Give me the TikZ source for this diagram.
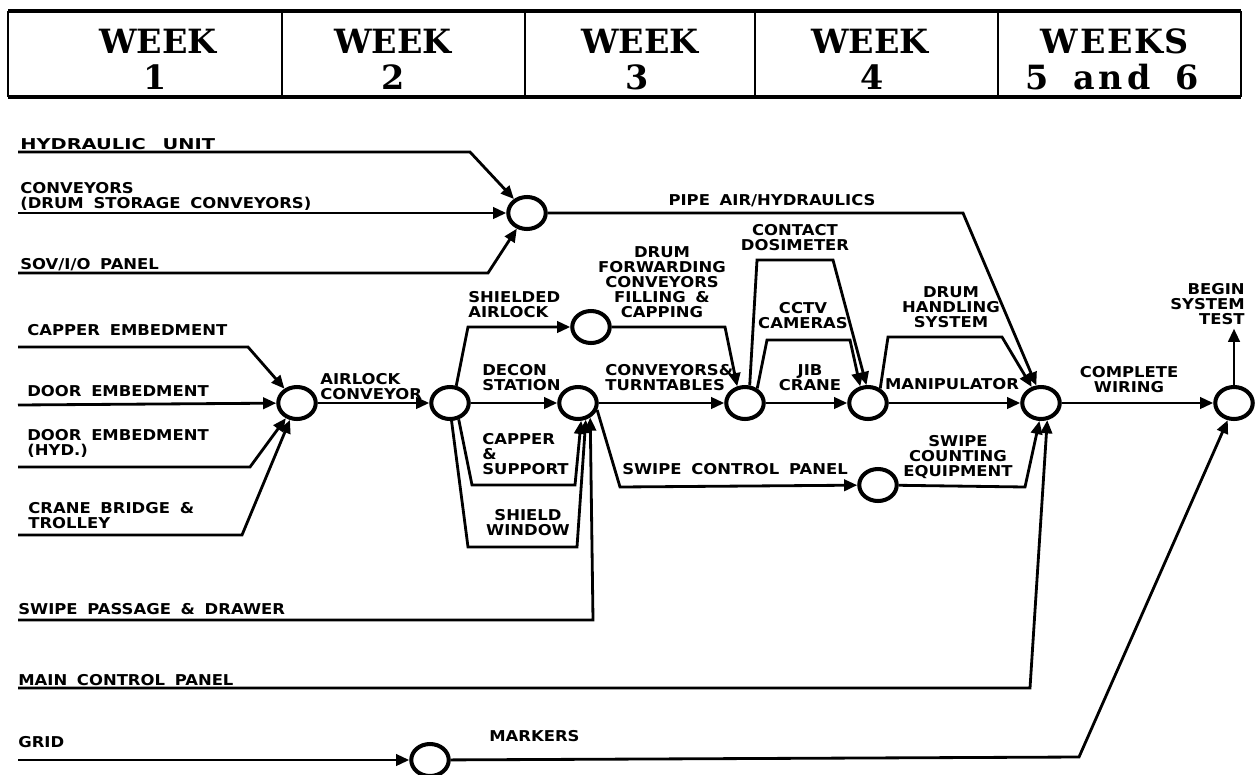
\documentclass[tikz,border=0pt]{standalone}
\usepackage{fontspec}
\usetikzlibrary{arrows.meta,shapes.geometric}
\newfontfamily\lab{DejaVu Sans}[FakeStretch=1.1,WordSpace=1.7]
\newfontfamily\labw{DejaVu Sans}[FakeStretch=1.3,WordSpace=2.5]
\newfontfamily\hdr{DejaVu Serif}
\begin{document}
\begin{tikzpicture}[x=0.02cm,y=-0.02cm,
  arr/.style={line width=1.6pt,-{Triangle[length=7.5pt,width=6.5pt]}},
  ev/.style={draw,ellipse,line width=2.3pt,minimum width=0.75cm,minimum height=0.64cm,inner sep=0pt},
  lbl/.style={font=\lab\bfseries\fontsize{8.5}{8.6}\selectfont,inner sep=0pt},
  lblw/.style={font=\labw\bfseries\fontsize{8.5}{8.6}\selectfont,inner sep=0pt},
  hd/.style={font=\hdr\bfseries\fontsize{19}{20}\selectfont,inner sep=0pt}]
\useasboundingbox (0,0) rectangle (1257,774);
% header
\draw[line width=1.8pt] (8,11) -- (1241,11);
\draw[line width=1.8pt] (8,97) -- (1241,97);
\foreach \x in {8,282,525,755,998,1241} \draw[line width=1pt] (\x,11) -- (\x,97);
\node[hd] (h1a) at (158,41) {WEEK};
\node[hd] (h1b) at (155,77) {1};
\node[hd] (h2a) at (393,41) {WEEK};
\node[hd] (h2b) at (393,77) {2};
\node[hd] (h3a) at (640,41) {WEEK};
\node[hd] (h3b) at (637,77) {3};
\node[hd] (h4a) at (870,41) {WEEK};
\node[hd] (h4b) at (872,77) {4};
\node[hd] (h5a) at (1115,41) {W\hspace{0.05em}E\hspace{0.05em}E\hspace{0.05em}K\hspace{0.05em}S};
\node[hd] (h5b) at (1112,77) {5\hspace{0.75em}a\hspace{0.12em}n\hspace{0.12em}d\hspace{0.75em}6};
% events
\node[ev] (A) at (527,213) {};
\node[ev] (B) at (297,403) {};
\node[ev] (C) at (450,403) {};
\node[ev] (D) at (591,327) {};
\node[ev] (E) at (578,403) {};
\node[ev] (F) at (745,403) {};
\node[ev] (G) at (868,403) {};
\node[ev] (H) at (1041,403) {};
\node[ev] (I) at (878,485) {};
\node[ev] (J) at (1234,403) {};
\node[ev] (K) at (430,760) {};
% free ends
\coordinate (hydS) at (18,152);
\coordinate (convS) at (18,213);
\coordinate (sovS) at (18,273);
\coordinate (capS) at (18,347);
\coordinate (doorS) at (18,405);
\coordinate (dhydS) at (18,467);
\coordinate (craneS) at (18,535);
\coordinate (swpS) at (18,620);
\coordinate (mainS) at (18,688);
\coordinate (gridS) at (18,760);
% labels
\node[lblw,anchor=west] (lhyd) at (20,144) {HYDRAULIC UNIT};
\node[lbl,anchor=west,align=left] (lconv) at (20,196) {CONVEYORS\\(DRUM STORAGE CONVEYORS)};
\node[lbl,anchor=west] (lsov) at (20,265) {SOV/I/O PANEL};
\node[lbl,anchor=west] (lcap) at (27,330) {CAPPER EMBEDMENT};
\node[lbl,anchor=west] (ldoor) at (27,391) {DOOR EMBEDMENT};
\node[lbl,anchor=west,align=left] (ldhyd) at (27,443) {DOOR EMBEDMENT\\(HYD.)};
\node[lbl,anchor=west,align=left] (lcrane) at (28,516) {CRANE BRIDGE \&\\TROLLEY};
\node[lbl,anchor=west] (lswp) at (18,609) {SWIPE PASSAGE \& DRAWER};
\node[lbl,anchor=west] (lmain) at (18,680) {MAIN CONTROL PANEL};
\node[lbl,anchor=west] (lgrid) at (18,742) {GRID};
\node[lbl,anchor=west] (lmark) at (489,736) {MARKERS};
\node[lbl] (lpipe) at (772,201) {PIPE AIR/HYDRAULICS};
\node[lbl,align=center] (ldrum) at (662,282) {DRUM\\FORWARDING\\CONVEYORS\\FILLING \&\\CAPPING};
\node[lbl,align=center] (lcont) at (795,238) {CONTACT\\DOSIMETER};
\node[lbl,anchor=west,align=left] (lshl) at (468,305) {SHIELDED\\AIRLOCK};
\node[lbl,anchor=west,align=left] (ldec) at (482,378) {DECON\\STATION};
\node[lbl,anchor=west,align=left] (lctt) at (605,378) {CONVEYORS\&\\TURNTABLES};
\node[lbl,align=center] (lcctv) at (803,316) {CCTV\\CAMERAS};
\node[lbl,align=center] (ljib) at (810,378) {JIB\\CRANE};
\node[lbl,align=center] (ldhs) at (951,307) {DRUM\\HANDLING\\SYSTEM};
\node[lbl] (lman) at (952,384) {MANIPULATOR};
\node[lbl,align=center] (lcw) at (1129,380) {COMPLETE\\WIRING};
\node[lbl,anchor=east,align=right] (bst) at (1245,304) {BEGIN\\SYSTEM\\TEST};
\node[lbl,anchor=west,align=left] (lair) at (320,387) {AIRLOCK\\CONVEYOR};
\node[lbl,anchor=west,align=left] (lcs) at (482,454) {CAPPER\\\&\\SUPPORT};
\node[lbl,align=center] (lsw) at (528,523) {SHIELD\\WINDOW};
\node[lbl] (lscp) at (735,469) {SWIPE CONTROL PANEL};
\node[lbl,align=center] (lsce) at (958,457) {SWIPE\\COUNTING\\EQUIPMENT};
% connectors
\draw[arr] (hydS) -- (470,152) -- (A);
\draw[arr] (convS) -- (A);
\draw[arr] (sovS) -- (488,273) -- (A);
\draw[arr] (A) -- (963,213) -- (H.105);
\draw[arr] (capS) -- (248,347) -- (B);
\draw[arr] (doorS) -- (B);
\draw[arr] (dhydS) -- (250,467) -- (B);
\draw[arr] (craneS) -- (242,535) -- (B);
\draw[arr] (B) -- (C);
\draw[arr] (C.70) -- (468,327) -- (D);
\draw[arr] (C) -- (E);
\draw[arr] (C.-62) -- (472,485) -- (575,485) -- (E.-80);
\draw[arr] (C.-85) -- (468,547) -- (577,547) -- (E.-65);
\draw[arr] (swpS) -- (593,620) -- (E.-50);
\draw[arr] (E.-20) -- (620,487) -- (I);
\draw[arr] (E) -- (F);
\draw[arr] (D) -- (725,327) -- (F.115);
\draw[arr] (F.75) -- (757,260) -- (833,260) -- (G.95);
\draw[arr] (F.50) -- (767,340) -- (850,340) -- (G.115);
\draw[arr] (F) -- (G);
\draw[arr] (G.50) -- (888,337) -- (1002,337) -- (H.120);
\draw[arr] (G) -- (H);
\draw[arr] (I) -- (1025,487) -- (H.-95);
\draw[arr] (mainS) -- (1030,688) -- (H.-70);
\draw[arr] (H) -- (J);
\draw[arr,shorten >=2pt] (J) -- (J |- bst.south);
\draw[arr] (gridS) -- (K);
\draw[arr] (K) -- (1079,757) -- (J.-110);
\end{tikzpicture}
\end{document}
